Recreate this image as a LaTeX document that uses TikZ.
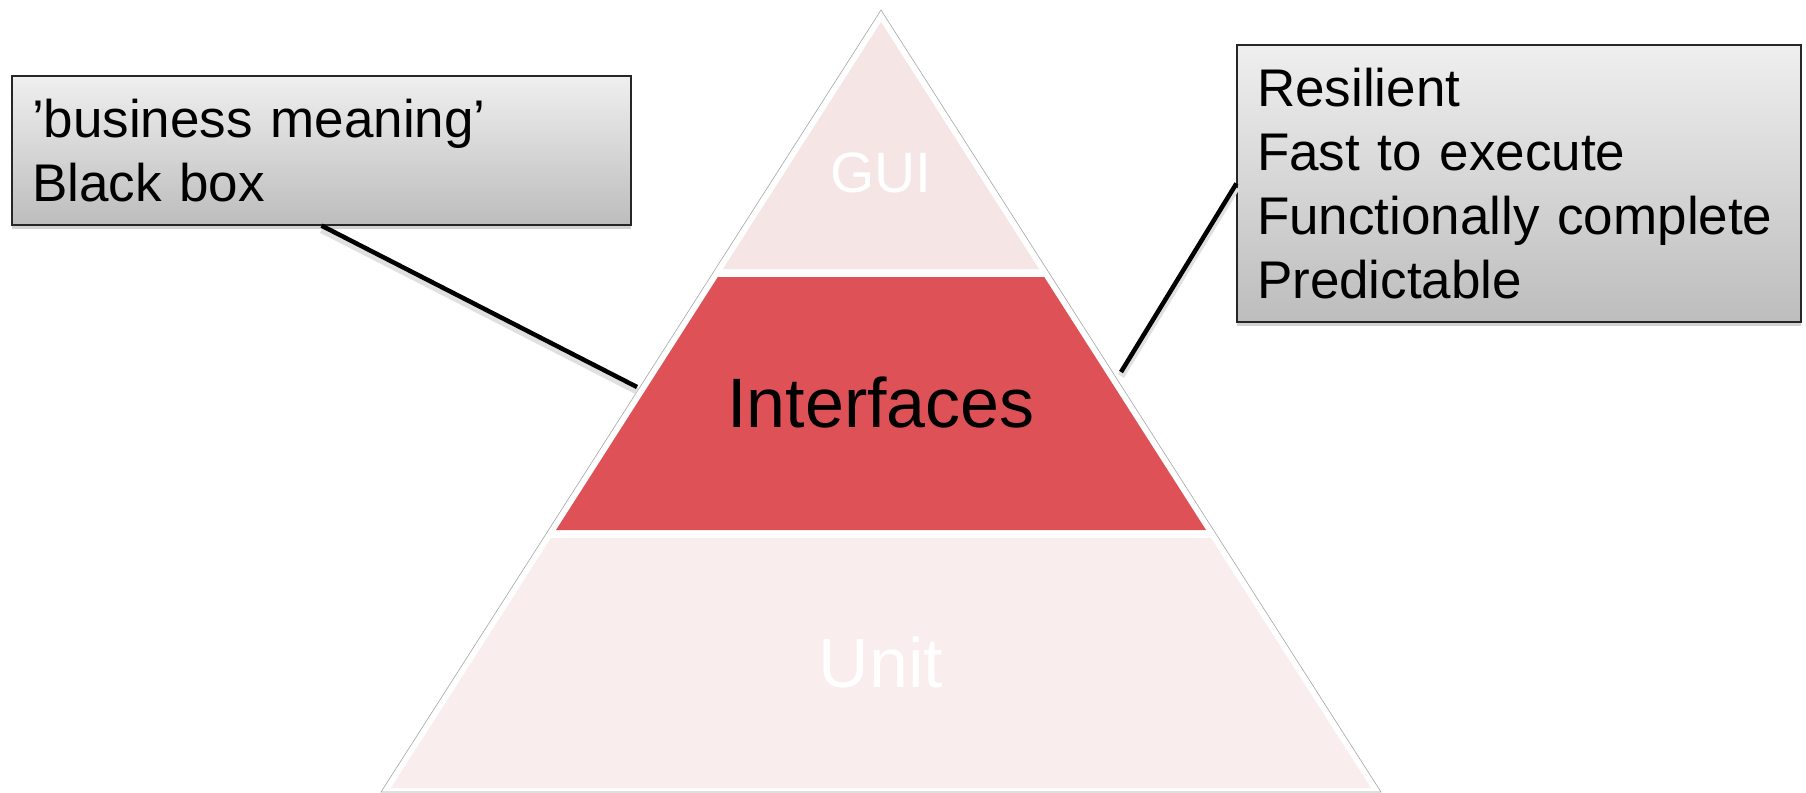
\documentclass[tikz,border=0pt]{standalone}
\usepackage{fontspec}
\setmainfont{Liberation Sans}
\usetikzlibrary{shadows}
\hyphenpenalty=10000
\exhyphenpenalty=10000
\definecolor{guifill}{HTML}{F5E5E5}
\definecolor{midfill}{HTML}{DE5257}
\definecolor{unitfill}{HTML}{F9EDED}
\definecolor{boxtop}{HTML}{EFEFEF}
\definecolor{boxbot}{HTML}{BDBDBD}
\begin{document}
\begin{tikzpicture}[x=1pt,y=-1pt,
  notebox/.style={draw=black!85, line width=1.2pt, top color=boxtop, bottom color=boxbot,
    drop shadow={shadow xshift=0pt, shadow yshift=-4pt, opacity=0.35},
    align=left, inner xsep=20pt, inner ysep=0pt,
    font=\fontsize{53}{64}\selectfont},
  layerlabel/.style={text=white},
  connector/.style={draw=black, line width=4.5pt},
  connshadow/.style={draw=black!12, line width=7pt, transform canvas={yshift=-4pt}}]
\useasboundingbox (0,0) rectangle (1806,792);
% outer outline of pyramid
\path[draw=black!35, line width=0.6pt, fill=white] (881,10) -- (381,792) -- (1381,792) -- cycle;
% layers
\path[fill=guifill] (881,22) -- (723,269) -- (1039,269) -- cycle;
\path[fill=midfill] (717.8,277) -- (1044.2,277) -- (1206,530) -- (556,530) -- cycle;
\path[fill=unitfill] (551,538) -- (1211,538) -- (1371,788) -- (391,788) -- cycle;
\node[layerlabel, font=\fontsize{57}{60}\selectfont] (gui) at (881,173) {GUI};
\node[font=\fontsize{70}{80}\selectfont] (intf) at (881,403) {Interfaces};
\node[layerlabel, font=\fontsize{70}{80}\selectfont] (unit) at (881,662) {Unit};
% boxes
\node[notebox, minimum width=619pt, minimum height=149pt, text width=579pt] (lbox) at (321.5,150.5)
  {’business meaning’\\Black box};
\node[notebox, minimum width=564pt, minimum height=277pt, text width=524pt] (rbox) at (1519,183.5)
  {Resilient\\Fast to execute\\Functionally complete\\Predictable};
% connectors
\coordinate (lend) at (637,387);
\coordinate (rend) at (1121,372);
\draw[connshadow] (lbox.south) -- (lend);
\draw[connshadow] (rbox.west) -- (rend);
\draw[connector] (lbox.south) -- (lend);
\draw[connector] (rbox.west) -- (rend);
\end{tikzpicture}
\end{document}
